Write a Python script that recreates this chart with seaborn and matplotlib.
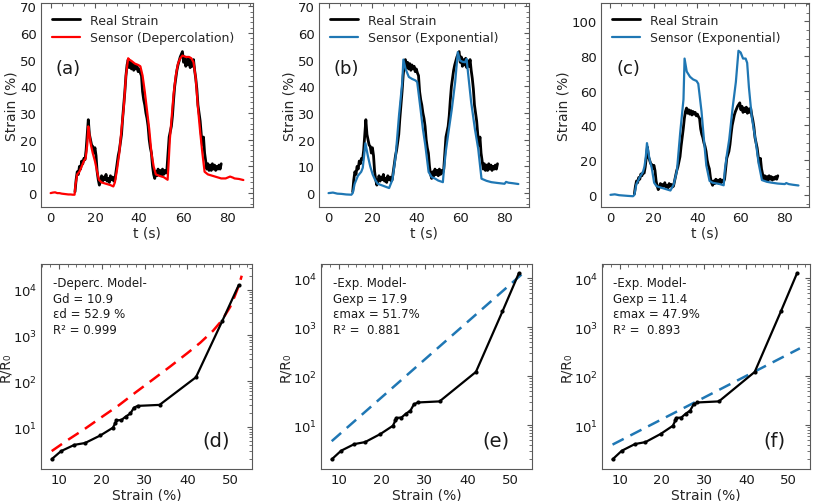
import numpy as np
import pandas as pd
import matplotlib
matplotlib.use("Agg")
import matplotlib.pyplot as plt
from matplotlib.ticker import AutoMinorLocator, MultipleLocator
import seaborn as sns

# ---------------- data: time series (top row) ----------------
real_t = np.arange(11.0, 77.01, 0.5)
real_strain = [
    0.5, 5, 8, 7, 10, 9, 12, 11, 13, 12.5,
    16, 22, 27.5, 22, 20, 18, 17.5, 15, 17, 14,
    8, 5, 3, 4.5, 6.5, 4.5, 6, 5, 7, 4.5,
    5.5, 4, 6.5, 5, 6, 4.5, 5, 8, 11, 14,
    16, 19, 22, 28, 33, 38, 44, 48, 50, 47,
    49, 46.5, 48.5, 46, 48, 46.5, 47.5, 45.5, 46.5, 45,
    44, 38, 35, 33, 30, 28, 25, 20, 17, 15,
    10, 7, 5.5, 8, 6.5, 9, 7, 8.5, 6.5, 9,
    7, 8.5, 7.5, 9, 15, 21, 23, 25, 29, 35,
    40, 43, 46, 48, 49.5, 51, 52, 53, 49, 51,
    47.5, 50, 48, 50.5, 47, 49.5, 47.5, 50, 46, 43,
    39, 33, 30, 27, 22, 18, 21, 15, 12, 9,
    11, 8.5, 10.5, 8.5, 11, 9, 10.5, 8.5, 10, 9,
    10.5, 9, 11,
]

deperc_t = [0, 1, 2, 3, 4, 5, 6, 7, 8, 9, 10, 10.8, 11.2, 12, 13, 14, 15, 15.8,
            16.5, 17, 17.5, 18.2, 19, 20, 21, 21.8, 23, 25, 27, 28.3, 29, 30, 31,
            32, 33, 34, 35, 35.5, 36.5, 38, 39.5, 40.5, 41.5, 42.5, 43.5, 44.5,
            45.5, 46.5, 47.5, 49, 51, 52.8, 53.3, 53.8, 54.5, 55.5, 56.5, 57.5,
            58.5, 59.5, 61, 62.5, 63.5, 64.5, 65.5, 66.5, 67.5, 68.5, 69.5, 71,
            73, 75, 77, 79, 81, 82.3, 83, 85, 87]
deperc_strain = [0, 0.2, 0.3, 0, 0, -0.2, -0.3, -0.4, -0.5, -0.5, -0.6, -0.6, 3,
                 7, 8, 10, 12, 13, 18, 25, 22, 18, 15, 12, 8, 5, 4, 3.5, 3, 2.5,
                 4, 9, 15, 24, 32, 44, 50.5, 50, 49.5, 48.5, 48, 47.5, 44, 38, 31,
                 24, 15, 10, 7, 6.5, 6, 5, 12, 20, 27, 37, 44, 48.5, 50.5, 51.5,
                 51, 51, 50.5, 49, 43, 32, 23, 15, 8, 7, 6.5, 6, 5.5, 5.5, 6.2,
                 5.8, 5.5, 5.3, 4.9]

exp_t = [0, 2, 4, 6, 8, 10.4, 11, 11.9, 13.4, 14.9, 15.6, 16.2, 16.8, 17.9, 19,
         20.1, 21.2, 22.4, 25, 27.6, 29.1, 30.6, 32.1, 33.6, 34.1, 35.1, 36.6,
         38, 39.6, 40.4, 41.9, 43, 44.1, 45.6, 47, 48.6, 50, 52.1, 52.6, 53.5,
         54.65, 56.2, 57.7, 58.9, 59.9, 61, 62.2, 62.9, 63.7, 65, 66.7, 68.2,
         69.7, 72, 74.2, 77, 80.2, 80.9, 82, 84, 86.5]
exp_b_strain = [0, 0.2, -0.2, -0.3, -0.5, -0.6, 0, 3.5, 6.5, 8, 9.5, 14, 18.7, 14,
                10, 7, 5, 3.5, 2.7, 1.9, 5, 14, 29, 41.6, 50, 46.5, 43.5, 42.8,
                42.2, 41.6, 31.6, 24, 17.9, 7.9, 6, 5.4, 4.7, 4.1, 9, 16, 22.8,
                31.6, 41.6, 52.8, 49.7, 49.2, 49, 50.3, 44, 34, 24, 16.6, 5.4,
                4.6, 4.1, 3.8, 3.5, 4.2, 3.9, 3.7, 3.4]
exp_c_strain = [0, 0.3, -0.2, -0.4, -0.6, -0.8, 0, 6, 10, 13, 16, 21, 29.8, 21,
                15.5, 7, 5, 4.5, 3.5, 2.5, 6, 14, 36, 55, 78.5, 71, 68, 66.5,
                65.6, 64, 48, 32, 17, 8, 7, 6.6, 6.3, 5.5, 14, 22.6, 32, 50, 65,
                83, 82, 78.5, 78.5, 76, 62, 45, 32, 18, 8.5, 7.5, 7, 6.5, 6.2,
                6.8, 6.2, 5.8, 5.4]

# ---------------- data: R/R0 vs strain (bottom row) ----------------
strain_pts = [8.3, 10.5, 13.6, 16.1, 19.7, 22.6, 23.2, 23.4, 24.6, 25.6, 26.7,
              27.5, 28.4, 33.5, 42.0, 48.2, 52.0]
rr0_pts = [2.0, 3.0, 4.1, 4.5, 6.6, 9.7, 12.5, 14.0, 14.3, 17, 19.8, 26.5, 29,
           30.5, 122, 2100, 12500]

deperc_fit_x = [8.3, 12, 16, 20, 24, 28, 32, 36, 40, 43, 46, 48, 50, 51, 52, 52.7]
deperc_fit_y = [3.0, 5.2, 9.1, 16.6, 30, 58, 110, 210, 410, 690, 1260, 2090,
                4170, 6900, 12000, 20000]
exp_e_fit_x = [8.3, 52.7]
exp_e_fit_y = [4.7, 12000]
exp_f_fit_x = [8.3, 52.7]
exp_f_fit_y = [4.0, 370]

top_labels = ["Sensor (Depercolation)", "Sensor (Exponential)", "Sensor (Exponential)"]
panel_tags = ["(a)", "(b)", "(c)", "(d)", "(e)", "(f)"]
model_texts = [
    "-Deperc. Model-\nGd = 10.9\nεd = 52.9 %\nR² = 0.999",
    "-Exp. Model-\nGexp = 17.9\nεmax = 51.7%\nR² =  0.881",
    "-Exp. Model-\nGexp = 11.4\nεmax = 47.9%\nR² =  0.893",
]

RED = "#ff0000"
BLUE = "#1f77b4"

sns.set_theme(style="white")
plt.rcParams["font.family"] = ["DejaVu Sans"]
plt.rcParams["axes.edgecolor"] = "0.35"
plt.rcParams["axes.linewidth"] = 0.8

W, H = 817, 502
fig = plt.figure(figsize=(W / 100, H / 100), dpi=100)


def px_axes(l, t, r, b):
    return fig.add_axes([l / W, 1 - b / H, (r - l) / W, (b - t) / H])


top_boxes = [(41, 4, 253, 208), (319, 4, 529, 208), (601, 4, 809, 208)]
bot_boxes = [(41, 265, 252, 470), (321, 265, 532, 470), (602, 265, 810, 470)]

sensor_t = [deperc_t, exp_t, exp_t]
sensor_y = [deperc_strain, exp_b_strain, exp_c_strain]
sensor_c = [RED, BLUE, BLUE]


def style_ticks(ax):
    ax.tick_params(which="both", direction="in", top=True, right=True,
                   colors="0.35", labelcolor="0.1", labelsize=9.5, pad=3)
    ax.tick_params(which="major", length=3.5, width=0.8)
    ax.tick_params(which="minor", length=2, width=0.6)
    for s in ax.spines.values():
        s.set_color("0.35")


for i, box in enumerate(top_boxes):
    ax = px_axes(*box)
    sns.lineplot(x=real_t, y=real_strain, ax=ax, color="black", lw=2.0,
                 estimator=None, sort=False, label="Real Strain")
    sns.lineplot(x=sensor_t[i], y=sensor_y[i], ax=ax, color=sensor_c[i], lw=1.6,
                 estimator=None, sort=False, label=top_labels[i])
    ax.set_xlim(-4.35, 91.35)
    ax.xaxis.set_major_locator(MultipleLocator(20))
    if i < 2:
        ax.set_ylim(-5.2, 71.2)
        ax.yaxis.set_major_locator(MultipleLocator(10))
    else:
        ax.set_ylim(-7, 110.5)
        ax.yaxis.set_major_locator(MultipleLocator(20))
    ax.xaxis.set_minor_locator(AutoMinorLocator())
    ax.yaxis.set_minor_locator(AutoMinorLocator())
    ax.set_xlabel("t (s)", fontsize=10, labelpad=1)
    ax.set_ylabel("Strain (%)", fontsize=10, labelpad=1)
    style_ticks(ax)
    ax.legend(loc="upper left", fontsize=9, frameon=False,
              handlelength=2.3, handletextpad=0.8, borderaxespad=0.45,
              labelspacing=0.35)
    ax.text(0.13, 0.68, panel_tags[i], transform=ax.transAxes, fontsize=13,
            ha="center", va="center", color="0.1")

fit_x = [deperc_fit_x, exp_e_fit_x, exp_f_fit_x]
fit_y = [deperc_fit_y, exp_e_fit_y, exp_f_fit_y]
fit_c = [RED, BLUE, BLUE]
ylims = [(1.22, 3.6e4), (1.27, 1.95e4), (1.27, 1.95e4)]

for i, box in enumerate(bot_boxes):
    ax = px_axes(*box)
    ax.set_yscale("log")
    sns.lineplot(x=fit_x[i], y=fit_y[i], ax=ax, color=fit_c[i], lw=1.8,
                 linestyle=(0, (5, 3)), estimator=None, sort=False)
    sns.lineplot(x=strain_pts, y=rr0_pts, ax=ax, color="black", lw=1.6,
                 marker="o", markersize=3, markeredgewidth=0,
                 estimator=None, sort=False)
    ax.set_xlim(5.8, 55.1)
    ax.set_ylim(*ylims[i])
    ax.xaxis.set_major_locator(MultipleLocator(10))
    ax.xaxis.set_minor_locator(AutoMinorLocator())
    ax.set_xlabel("Strain (%)", fontsize=10, labelpad=1)
    ax.set_ylabel("R/R₀", fontsize=10, labelpad=0)
    style_ticks(ax)
    ax.text(0.055, 0.94, model_texts[i], transform=ax.transAxes, fontsize=8.5,
            ha="left", va="top", linespacing=1.25, color="0.1")
    ax.text(0.83, 0.14, panel_tags[i + 3], transform=ax.transAxes, fontsize=14,
            ha="center", va="center", color="0.1")

fig.savefig("out.png", dpi=100)
